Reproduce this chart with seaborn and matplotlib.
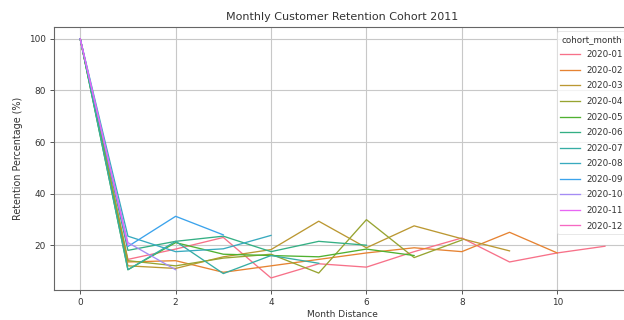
import matplotlib
matplotlib.use("Agg")
import matplotlib.pyplot as plt
import numpy as np
import pandas as pd
import seaborn as sns

# Retention (%) per cohort, indexed by months since first purchase
cohort_months = ["2020-01", "2020-02", "2020-03", "2020-04", "2020-05", "2020-06",
                 "2020-07", "2020-08", "2020-09", "2020-10", "2020-11", "2020-12"]

ret_2020_01 = [100, 14.5, 18.5, 23.0, 7.3, 12.8, 11.5, 17.5, 22.8, 13.5, 17.0, 19.6]
ret_2020_02 = [100, 13.5, 14.0, 9.5, 12.0, 14.5, 17.0, 19.0, 17.5, 25.0, 17.0]
ret_2020_03 = [100, 12.0, 11.0, 15.5, 18.3, 29.3, 19.0, 27.5, 22.5, 17.8]
ret_2020_04 = [100, 14.0, 12.0, 15.0, 16.5, 9.2, 29.9, 15.2, 22.0]
ret_2020_05 = [100, 10.5, 21.0, 16.5, 16.0, 15.5, 18.5, 16.0]
ret_2020_06 = [100, 18.0, 21.5, 23.5, 17.5, 21.5, 20.0]
ret_2020_07 = [100, 10.5, 21.5, 9.0, 16.0, 13.0]
ret_2020_08 = [100, 23.5, 17.5, 18.6, 23.8]
ret_2020_09 = [100, 19.5, 31.2, 24.0]
ret_2020_10 = [100, 21.0, 10.5]
ret_2020_11 = [100, 20.0]
ret_2020_12 = [100]

series = [ret_2020_01, ret_2020_02, ret_2020_03, ret_2020_04, ret_2020_05, ret_2020_06,
          ret_2020_07, ret_2020_08, ret_2020_09, ret_2020_10, ret_2020_11, ret_2020_12]

rows = []
for cohort, values in zip(cohort_months, series):
    for distance, pct in enumerate(values):
        rows.append({"cohort_month": cohort, "month_distance": distance, "retention": pct})
df = pd.DataFrame(rows)

text_color = "#333333"
plt.rcParams.update({
    "font.family": ["DejaVu Sans"],
    "text.color": text_color,
    "axes.labelcolor": text_color,
    "xtick.color": "#555555",
    "ytick.color": "#555555",
    "xtick.labelcolor": text_color,
    "ytick.labelcolor": text_color,
})

fig = plt.figure(figsize=(6.24, 3.2), dpi=100)
ax = fig.add_axes([0.0865, 0.094, 0.925, 0.822])

sns.lineplot(data=df, x="month_distance", y="retention", hue="cohort_month",
             palette=sns.husl_palette(len(cohort_months)), linewidth=0.95, ax=ax)

ax.grid(True, color="#c8c8c8", linewidth=0.8)
ax.set_axisbelow(True)
for side in ax.spines.values():
    side.set_color("#666666")
    side.set_linewidth(0.8)

ax.tick_params(labelsize=6.4, length=3, width=0.7, pad=3)
ax.set_title("Monthly Customer Retention Cohort 2011", fontsize=8, pad=5)
ax.set_xlabel("Month Distance", fontsize=6.5, labelpad=2)
ax.set_ylabel("Retention Percentage (%)", fontsize=6.9, labelpad=4)

leg = ax.legend(title="cohort_month", loc="upper right", fontsize=6.3, title_fontsize=6.3,
                labelspacing=0.75, handlelength=2.2, frameon=True)
leg.get_frame().set_edgecolor("#dddddd")
leg.get_frame().set_linewidth(0.6)

fig.savefig("out.png", dpi=100)
